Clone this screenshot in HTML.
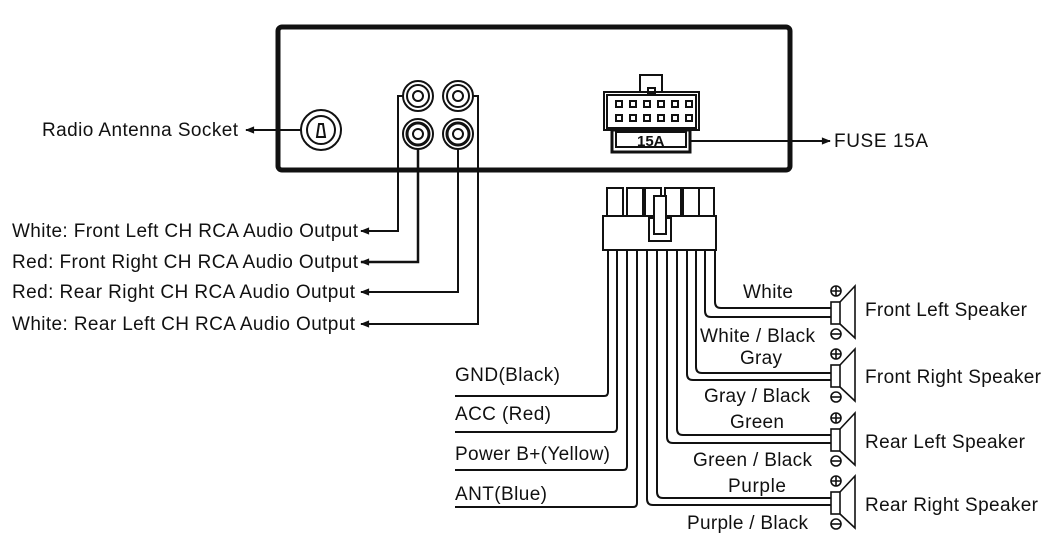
<!DOCTYPE html>
<html><head><meta charset="utf-8"><style>
html,body{margin:0;padding:0;background:#fff;}
svg{display:block;font-family:"Liberation Sans",Arial,sans-serif;}
text{font-size:19px;fill:#111;}
</style></head><body>
<svg width="1049" height="547" viewBox="0 0 1049 547" xmlns="http://www.w3.org/2000/svg">
<defs>
<marker id="ar" viewBox="0 0 10 10" refX="9" refY="5" markerWidth="11" markerHeight="9" orient="auto" markerUnits="userSpaceOnUse">
<path d="M0,1 L10,5 L0,9 Z" fill="#111"/>
</marker>
</defs>
<rect x="278" y="27" width="512" height="143" rx="4" fill="none" stroke="#111" stroke-width="5"/>
<circle cx="321" cy="130" r="20" fill="none" stroke="#111" stroke-width="2"/>
<circle cx="321" cy="130" r="14" fill="none" stroke="#111" stroke-width="2"/>
<path d="M317,137 L319,124 L323,124 L325,137 Z" fill="none" stroke="#111" stroke-width="2"/>
<line x1="301" y1="130" x2="246" y2="130" stroke="#111" stroke-width="2" marker-end="url(#ar)"/>
<text x="42" y="136" textLength="196">Radio Antenna Socket</text>
<g fill="none" stroke="#111" stroke-width="2">
<circle cx="418" cy="96" r="15"/><circle cx="418" cy="96" r="11"/><circle cx="418" cy="96" r="5"/>
<circle cx="458" cy="96" r="15"/><circle cx="458" cy="96" r="11"/><circle cx="458" cy="96" r="5"/>
<circle cx="418" cy="134" r="15"/><circle cx="418" cy="134" r="11" stroke-width="3"/><circle cx="418" cy="134" r="5"/>
<circle cx="458" cy="134" r="15"/><circle cx="458" cy="134" r="11" stroke-width="3"/><circle cx="458" cy="134" r="5"/>
</g>
<g fill="none" stroke="#111" stroke-width="2">
<polyline points="403,96 398,96 398,231 361,231" marker-end="url(#ar)"/>
<polyline points="418,149 418,262 361,262" stroke-width="2.5" marker-end="url(#ar)"/>
<polyline points="458,149 458,292 361,292" marker-end="url(#ar)"/>
<polyline points="473,96 478,96 478,324 361,324" marker-end="url(#ar)"/>
</g>
<text x="12" y="237" textLength="346">White: Front Left CH RCA Audio Output</text>
<text x="12" y="268" textLength="346">Red: Front Right CH RCA Audio Output</text>
<text x="12" y="298" textLength="343">Red: Rear Right CH RCA Audio Output</text>
<text x="12" y="330" textLength="343">White: Rear Left CH RCA Audio Output</text>
<g fill="none" stroke="#111" stroke-width="2">
<rect x="640" y="75" width="22" height="17"/>
<rect x="648" y="88" width="7" height="5" fill="#fff"/>
<rect x="604" y="92" width="95" height="38"/>
<rect x="607" y="95" width="89" height="33"/>
<rect x="612" y="130" width="78" height="22" stroke-width="3"/>
<rect x="616" y="132" width="70" height="15"/>
</g>
<g fill="#111">
<rect x="615" y="100" width="8" height="8"/><rect x="629" y="100" width="8" height="8"/><rect x="643" y="100" width="8" height="8"/><rect x="657" y="100" width="8" height="8"/><rect x="671" y="100" width="8" height="8"/><rect x="685" y="100" width="8" height="8"/>
<rect x="615" y="114" width="8" height="8"/><rect x="629" y="114" width="8" height="8"/><rect x="643" y="114" width="8" height="8"/><rect x="657" y="114" width="8" height="8"/><rect x="671" y="114" width="8" height="8"/><rect x="685" y="114" width="8" height="8"/>
</g>
<g fill="#fff"><rect x="617" y="102" width="4" height="4"/><rect x="631" y="102" width="4" height="4"/><rect x="645" y="102" width="4" height="4"/><rect x="659" y="102" width="4" height="4"/><rect x="673" y="102" width="4" height="4"/><rect x="687" y="102" width="4" height="4"/>
<rect x="617" y="116" width="4" height="4"/><rect x="631" y="116" width="4" height="4"/><rect x="645" y="116" width="4" height="4"/><rect x="659" y="116" width="4" height="4"/><rect x="673" y="116" width="4" height="4"/><rect x="687" y="116" width="4" height="4"/></g>
<text x="637" y="146" style="font-size:15px;font-weight:bold">15A</text>
<line x1="690" y1="141" x2="830" y2="141" stroke="#111" stroke-width="2" marker-end="url(#ar)"/>
<text x="834" y="147" textLength="94">FUSE 15A</text>
<g fill="none" stroke="#111" stroke-width="2">
<rect x="607" y="188" width="16" height="30"/><rect x="627" y="188" width="16" height="30"/><rect x="645" y="188" width="16" height="30"/><rect x="665" y="188" width="16" height="30"/><rect x="683" y="188" width="16" height="30"/><rect x="699" y="188" width="15" height="30"/>
<rect x="603" y="216" width="113" height="34" fill="#fff"/>
<rect x="649" y="218" width="22" height="23" fill="#fff"/>
<rect x="654" y="196" width="12" height="38" fill="#fff"/>
</g>
<g fill="none" stroke="#111" stroke-width="2">
<path d="M608,250 V392 Q608,396 604,396 H455"/>
<path d="M617,250 V428 Q617,432 613,432 H455"/>
<path d="M627,250 V466 Q627,470 623,470 H455"/>
<path d="M637,250 V503 Q637,507 633,507 H455"/>
</g>
<text x="455" y="381" textLength="105">GND(Black)</text>
<text x="455" y="420" textLength="96">ACC (Red)</text>
<text x="455" y="460" textLength="155">Power B+(Yellow)</text>
<text x="455" y="500" textLength="92">ANT(Blue)</text>
<g fill="none" stroke="#111" stroke-width="2">
<path d="M715,250 V302 Q715,308 721,308 H831"/>
<path d="M705,250 V311 Q705,317 711,317 H831"/>
<path d="M696,250 V367 Q696,373 702,373 H831"/>
<path d="M687,250 V374 Q687,380 693,380 H831"/>
<path d="M677,250 V429 Q677,435 683,435 H831"/>
<path d="M667,250 V437 Q667,443 673,443 H831"/>
<path d="M657,250 V492 Q657,498 663,498 H831"/>
<path d="M647,250 V499 Q647,505 653,505 H831"/>
</g>
<text x="743" y="298" textLength="50">White</text>
<text x="700" y="342" textLength="115">White / Black</text>
<text x="740" y="364" textLength="42">Gray</text>
<text x="704" y="402" textLength="106">Gray / Black</text>
<text x="730" y="428" textLength="54">Green</text>
<text x="693" y="466" textLength="119">Green / Black</text>
<text x="728" y="492" textLength="58">Purple</text>
<text x="687" y="529" textLength="121">Purple / Black</text>
<g fill="none" stroke="#111" stroke-width="1.6">
<g transform="translate(0,313)"><rect x="831" y="-11" width="9" height="22" fill="#fff"/><polyline points="840,-11 855,-27 855,25 840,11"/><circle cx="836" cy="-22" r="5"/><path d="M831,-22 h10 M836,-27 v10"/><circle cx="836" cy="21" r="5"/><path d="M831,21 h10"/></g>
<g transform="translate(0,376)"><rect x="831" y="-11" width="9" height="22" fill="#fff"/><polyline points="840,-11 855,-27 855,25 840,11"/><circle cx="836" cy="-22" r="5"/><path d="M831,-22 h10 M836,-27 v10"/><circle cx="836" cy="21" r="5"/><path d="M831,21 h10"/></g>
<g transform="translate(0,440)"><rect x="831" y="-11" width="9" height="22" fill="#fff"/><polyline points="840,-11 855,-27 855,25 840,11"/><circle cx="836" cy="-22" r="5"/><path d="M831,-22 h10 M836,-27 v10"/><circle cx="836" cy="21" r="5"/><path d="M831,21 h10"/></g>
<g transform="translate(0,503)"><rect x="831" y="-11" width="9" height="22" fill="#fff"/><polyline points="840,-11 855,-27 855,25 840,11"/><circle cx="836" cy="-22" r="5"/><path d="M831,-22 h10 M836,-27 v10"/><circle cx="836" cy="21" r="5"/><path d="M831,21 h10"/></g>
</g>
<text x="865" y="316" textLength="162">Front Left Speaker</text>
<text x="865" y="383" textLength="176">Front Right Speaker</text>
<text x="865" y="448" textLength="160">Rear Left Speaker</text>
<text x="865" y="511" textLength="173">Rear Right Speaker</text>
</svg>
</body></html>
